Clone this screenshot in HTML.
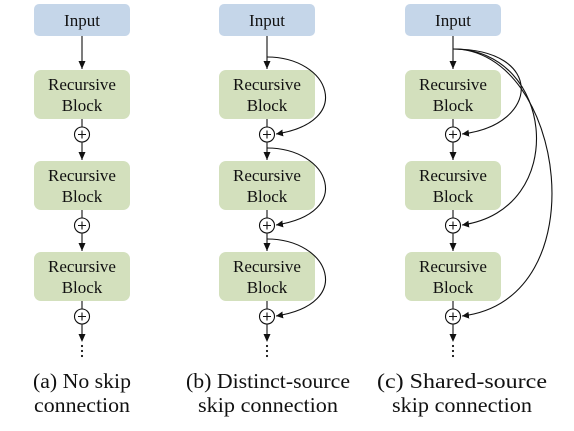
<!DOCTYPE html>
<html><head><meta charset="utf-8"><style>
body{margin:0;background:#fff;}
svg{display:block;}
</style></head><body>
<svg width="574" height="431" viewBox="0 0 574 431" xmlns="http://www.w3.org/2000/svg">
<defs>
<marker id="ar" markerWidth="8" markerHeight="8" refX="7" refY="4" orient="auto" markerUnits="userSpaceOnUse">
<path d="M0,0.5 L7,4 L0,7.5 Z" fill="#111"/></marker>
</defs>
<g font-size="17" text-anchor="middle" font-family="Liberation Serif, serif" fill="#111">
<rect x="34" y="4" width="96" height="32" rx="5" fill="#c5d6e9"/>
<text x="82" y="26">Input</text>
<rect x="34" y="70" width="96" height="49" rx="7" fill="#d3e0bd"/>
<text x="82" y="90">Recursive</text><text x="82" y="111">Block</text>
<rect x="34" y="161" width="96" height="49" rx="7" fill="#d3e0bd"/>
<text x="82" y="181">Recursive</text><text x="82" y="202">Block</text>
<rect x="34" y="252" width="96" height="49" rx="7" fill="#d3e0bd"/>
<text x="82" y="272">Recursive</text><text x="82" y="293">Block</text>
<rect x="219" y="4" width="96" height="32" rx="5" fill="#c5d6e9"/>
<text x="267" y="26">Input</text>
<rect x="219" y="70" width="96" height="49" rx="7" fill="#d3e0bd"/>
<text x="267" y="90">Recursive</text><text x="267" y="111">Block</text>
<rect x="219" y="161" width="96" height="49" rx="7" fill="#d3e0bd"/>
<text x="267" y="181">Recursive</text><text x="267" y="202">Block</text>
<rect x="219" y="252" width="96" height="49" rx="7" fill="#d3e0bd"/>
<text x="267" y="272">Recursive</text><text x="267" y="293">Block</text>
<rect x="405" y="4" width="96" height="32" rx="5" fill="#c5d6e9"/>
<text x="453" y="26">Input</text>
<rect x="405" y="70" width="96" height="49" rx="7" fill="#d3e0bd"/>
<text x="453" y="90">Recursive</text><text x="453" y="111">Block</text>
<rect x="405" y="161" width="96" height="49" rx="7" fill="#d3e0bd"/>
<text x="453" y="181">Recursive</text><text x="453" y="202">Block</text>
<rect x="405" y="252" width="96" height="49" rx="7" fill="#d3e0bd"/>
<text x="453" y="272">Recursive</text><text x="453" y="293">Block</text>
</g>
<g stroke="#111" stroke-width="1.1" fill="none">
<path d="M82 36V69 M82 119V127 M82 142V160 M82 210V218 M82 233V251 M82 301V309 M82 324V340"/>
<path d="M267 36V69 M267 119V127 M267 142V160 M267 210V218 M267 233V251 M267 301V309 M267 324V340"/>
<path d="M453 36V69 M453 119V127 M453 142V160 M453 210V218 M453 233V251 M453 301V309 M453 324V340"/>
<g fill="#fff">
<circle cx="82" cy="134.5" r="7.5"/><circle cx="82" cy="225.5" r="7.5"/><circle cx="82" cy="316.5" r="7.5"/>
<circle cx="267" cy="134.5" r="7.5"/><circle cx="267" cy="225.5" r="7.5"/><circle cx="267" cy="316.5" r="7.5"/>
<circle cx="453" cy="134.5" r="7.5"/><circle cx="453" cy="225.5" r="7.5"/><circle cx="453" cy="316.5" r="7.5"/>
</g>
<path d="M78 134.5H86M82 130.5V138.5 M78 225.5H86M82 221.5V229.5 M78 316.5H86M82 312.5V320.5"/>
<path d="M263 134.5H271M267 130.5V138.5 M263 225.5H271M267 221.5V229.5 M263 316.5H271M267 312.5V320.5"/>
<path d="M449 134.5H457M453 130.5V138.5 M449 225.5H457M453 221.5V229.5 M449 316.5H457M453 312.5V320.5"/>
<path d="M267 57 C330 57 355 122 276 134" marker-end="url(#ar)"/>
<path d="M267 148 C330 148 355 213 276 225" marker-end="url(#ar)"/>
<path d="M267 239 C330 239 355 304 276 316" marker-end="url(#ar)"/>
<path d="M453 49 C545 49 540 125 462 134" marker-end="url(#ar)"/>
<path d="M453 49 C555 49 570 210 462 225" marker-end="url(#ar)"/>
<path d="M453 49 C565 49 600 300 462 316" marker-end="url(#ar)"/>
</g>
<g fill="#111">
<path d="M78.5 61L82 69 85.5 61Z M78.5 152L82 160 85.5 152Z M78.5 243L82 251 85.5 243Z M78.5 334L82 342 85.5 334Z"/>
<path d="M263.5 61L267 69 270.5 61Z M263.5 152L267 160 270.5 152Z M263.5 243L267 251 270.5 243Z M263.5 334L267 342 270.5 334Z"/>
<path d="M449.5 61L453 69 456.5 61Z M449.5 152L453 160 456.5 152Z M449.5 243L453 251 456.5 243Z M449.5 334L453 342 456.5 334Z"/>
<circle cx="82" cy="346" r="1.1"/><circle cx="82" cy="351" r="1.1"/><circle cx="82" cy="356" r="1.1"/>
<circle cx="267" cy="346" r="1.1"/><circle cx="267" cy="351" r="1.1"/><circle cx="267" cy="356" r="1.1"/>
<circle cx="453" cy="346" r="1.1"/><circle cx="453" cy="351" r="1.1"/><circle cx="453" cy="356" r="1.1"/>
</g>
<g font-size="21" text-anchor="middle" font-family="Liberation Serif, serif" fill="#111">
<text x="82" y="388" textLength="98" lengthAdjust="spacingAndGlyphs">(a) No skip</text>
<text x="82" y="412" textLength="96" lengthAdjust="spacingAndGlyphs">connection</text>
<text x="268" y="388" textLength="164" lengthAdjust="spacingAndGlyphs">(b) Distinct-source</text>
<text x="268" y="412" textLength="140" lengthAdjust="spacingAndGlyphs">skip connection</text>
<text x="462" y="388" textLength="170" lengthAdjust="spacingAndGlyphs">(c) Shared-source</text>
<text x="462" y="412" textLength="140" lengthAdjust="spacingAndGlyphs">skip connection</text>
</g>
</svg>
</body></html>
